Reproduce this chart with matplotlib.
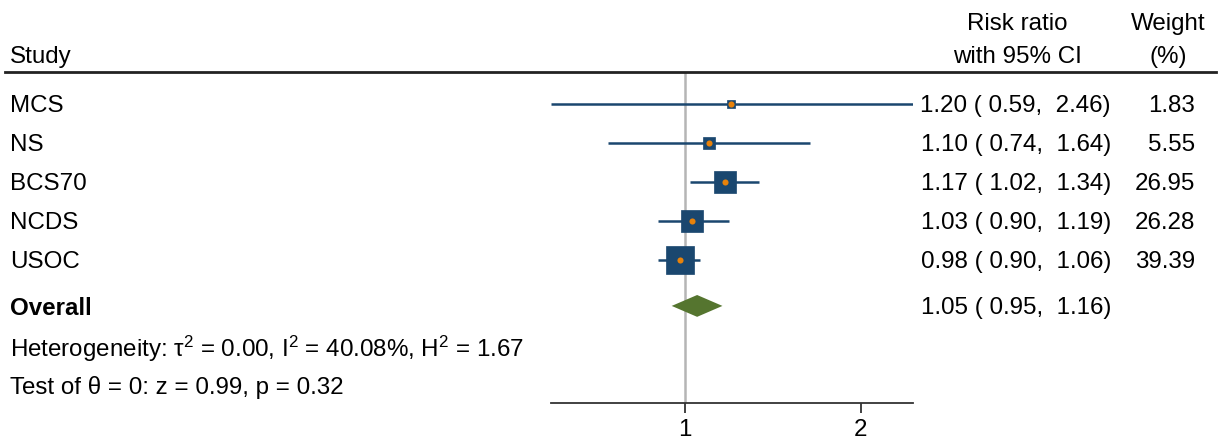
import numpy as np
import matplotlib
matplotlib.use("Agg")
import matplotlib.pyplot as plt
from matplotlib.transforms import blended_transform_factory, offset_copy
from matplotlib.lines import Line2D

plt.rcParams['font.family'] = ['Liberation Sans', 'DejaVu Sans']
plt.rcParams['mathtext.fontset'] = 'custom'
plt.rcParams['mathtext.rm'] = 'Liberation Sans'
plt.rcParams['mathtext.it'] = 'Liberation Sans:italic'
plt.rcParams['mathtext.default'] = 'regular'

# ---- data ----
studies = ["MCS", "NS", "BCS70", "NCDS", "USOC"]
rr = [1.20, 1.10, 1.17, 1.03, 0.98]
ci_lo = [0.59, 0.74, 1.02, 0.90, 0.90]
ci_hi = [2.46, 1.64, 1.34, 1.19, 1.06]
weights = [1.83, 5.55, 26.95, 26.28, 39.39]
overall_rr = 1.05
overall_lo = 0.95
overall_hi = 1.16
het_text = "Heterogeneity: τ$^{2}$ = 0.00, I$^{2}$ = 40.08%, H$^{2}$ = 1.67"
test_text = "Test of θ = 0: z = 0.99, p = 0.32"
xticks = [1, 2]
xticklabels = ["1", "2"]

NAVY = "#1A476F"
ORANGE = "#E8820A"
GREEN = "#55752F"
FS = 17.4

W, H = 1218, 443
fig = plt.figure(figsize=(W / 100, H / 100), dpi=100)

left_px, right_px = 550.7, 913.4
top_px, bot_px = 72, 403
ax = fig.add_axes([left_px / W, 1 - bot_px / H, (right_px - left_px) / W, (bot_px - top_px) / H])
ax.set_xscale('log')
ax.set_xlim(min(ci_lo), max(ci_hi))
ax.set_ylim(8.67, 0.18)

rows = np.arange(1, len(studies) + 1)
overall_row = 6.18
het_row = 7.23
test_row = 8.2

ax.axvline(1, color="#b5b5b5", lw=1.8, zorder=0)

for y, r, lo, hi, w in zip(rows, rr, ci_lo, ci_hi, weights):
    ax.plot([lo, hi], [y, y], color=NAVY, lw=1.8, solid_capstyle='butt', zorder=2)
    ms = 2.78 * np.sqrt(w) + 2.0
    ax.plot([r], [y], marker='s', ms=ms, color=NAVY, mec=NAVY, mew=0.5, zorder=3)
    ax.plot([r], [y], marker='o', ms=4.4, color=ORANGE, mec=ORANGE, mew=0, zorder=4)

dh = 0.28
ax.fill([overall_lo, overall_rr, overall_hi, overall_rr],
        [overall_row, overall_row - dh, overall_row, overall_row + dh],
        color=GREEN, lw=0, zorder=3)

for s in ['top', 'left', 'right']:
    ax.spines[s].set_visible(False)
ax.spines['bottom'].set_color('#333333')
ax.spines['bottom'].set_linewidth(1.3)
ax.set_yticks([])
ax.set_xticks(xticks)
ax.set_xticklabels(xticklabels)
ax.xaxis.set_minor_locator(matplotlib.ticker.NullLocator())
ax.tick_params(axis='x', direction='out', length=7, width=1.3, color='#333333',
               labelsize=FS, pad=4.5)
ax.patch.set_alpha(0)

tr0 = blended_transform_factory(fig.transFigure, ax.transData)
tr = offset_copy(tr0, fig=fig, x=0, y=-2.5, units='dots')
def fx(px):
    return px / W

y_hdr_top = 1 + (22 - 104) / 39.0
y_hdr_bot = 1 + (55 - 104) / 39.0
ax.text(fx(10), y_hdr_bot, "Study", transform=tr, ha='left', va='center', fontsize=FS, clip_on=False)
ax.text(fx(1017), y_hdr_top, "Risk ratio", transform=tr, ha='center', va='center', fontsize=FS, clip_on=False)
ax.text(fx(1017), y_hdr_bot, "with 95% CI", transform=tr, ha='center', va='center', fontsize=FS, clip_on=False)
ax.text(fx(1168), y_hdr_top, "Weight", transform=tr, ha='center', va='center', fontsize=FS, clip_on=False)
ax.text(fx(1168), y_hdr_bot, "(%)", transform=tr, ha='center', va='center', fontsize=FS, clip_on=False)

fig.add_artist(Line2D([5 / W, 1216 / W], [1 - 72 / H, 1 - 72 / H], color='#222222', lw=2))

for y, name, r, lo, hi, w in zip(rows, studies, rr, ci_lo, ci_hi, weights):
    ax.text(fx(10), y, name, transform=tr, ha='left', va='center', fontsize=FS, clip_on=False)
    ax.text(fx(1111), y, f"{r:.2f} ( {lo:.2f},  {hi:.2f})", transform=tr, ha='right', va='center',
            fontsize=FS, clip_on=False)
    ax.text(fx(1195), y, f"{w:.2f}", transform=tr, ha='right', va='center', fontsize=FS, clip_on=False)

ax.text(fx(10), overall_row, "Overall", transform=tr, ha='left', va='center', fontsize=FS,
        fontweight='bold', clip_on=False)
ax.text(fx(1111), overall_row, f"{overall_rr:.2f} ( {overall_lo:.2f},  {overall_hi:.2f})", transform=tr,
        ha='right', va='center', fontsize=FS, clip_on=False)
ax.text(fx(10), het_row, het_text, transform=tr, ha='left', va='center', fontsize=FS, clip_on=False)
ax.text(fx(10), test_row, test_text, transform=tr, ha='left', va='center', fontsize=FS, clip_on=False)

fig.savefig("out.png", dpi=100, facecolor='white')
